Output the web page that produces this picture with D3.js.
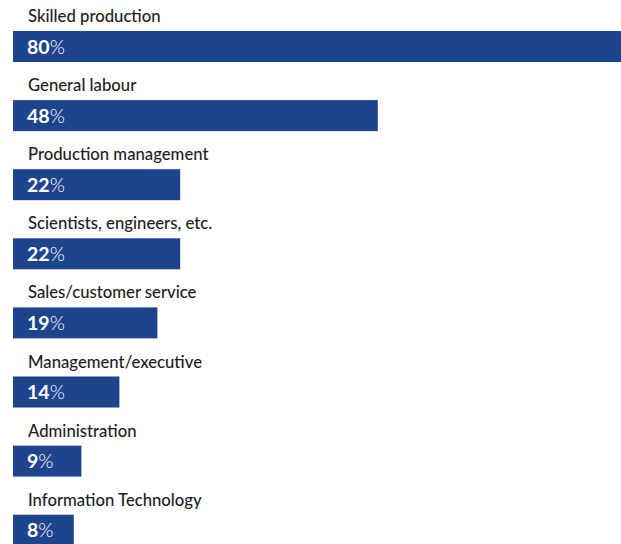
<!DOCTYPE html>
<html>
<head>
<meta charset="utf-8">
<script src="https://cdn.jsdelivr.net/npm/d3@7"></script>
<style>
  html, body { margin: 0; padding: 0; background: #fff; }
  svg { display: block; }
  .label { font-family: "Lato", "Open Sans", sans-serif; font-size: 16.7px; font-weight: 500; fill: #1e1e1e; }
  .val { font-family: "Lato", "Open Sans", sans-serif; font-size: 19.5px; fill: #fff; }
</style>
</head>
<body>
<svg id="chart" width="621" height="544"></svg>
<script>
// Share of respondents by occupation group
const categories = [
  "Skilled production",
  "General labour",
  "Production management",
  "Scientists, engineers, etc.",
  "Sales/customer service",
  "Management/executive",
  "Administration",
  "Information Technology"
];
const values = [80, 48, 22, 22, 19, 14, 9, 8];

const width = 621, height = 544;
const svg = d3.select("#chart");

// each row holds a caption line followed by its bar
const row = d3.scaleBand().domain(categories).range([0, 69.1 * categories.length]);
const x = d3.scaleLinear().domain([0, 80]).range([13, 621]);
const barTop = 31, barH = 31;

const g = svg.selectAll("g.row")
  .data(categories.map((c, i) => ({ c, v: values[i] })))
  .join("g")
  .attr("class", "row")
  .attr("transform", d => `translate(0,${row(d.c)})`);

g.append("text")
  .attr("class", "label")
  .attr("x", 28)
  .attr("y", 22)
  .text(d => d.c);

g.append("rect")
  .attr("x", x(0))
  .attr("y", barTop)
  .attr("width", d => x(d.v) - x(0))
  .attr("height", barH)
  .attr("fill", "#1f448e");

const t = g.append("text")
  .attr("class", "val")
  .attr("x", 27)
  .attr("y", barTop + 22.5);
t.append("tspan").attr("font-weight", "bold").text(d => d.v);
t.append("tspan").attr("font-weight", "300").text("%");
</script>
</body>
</html>
